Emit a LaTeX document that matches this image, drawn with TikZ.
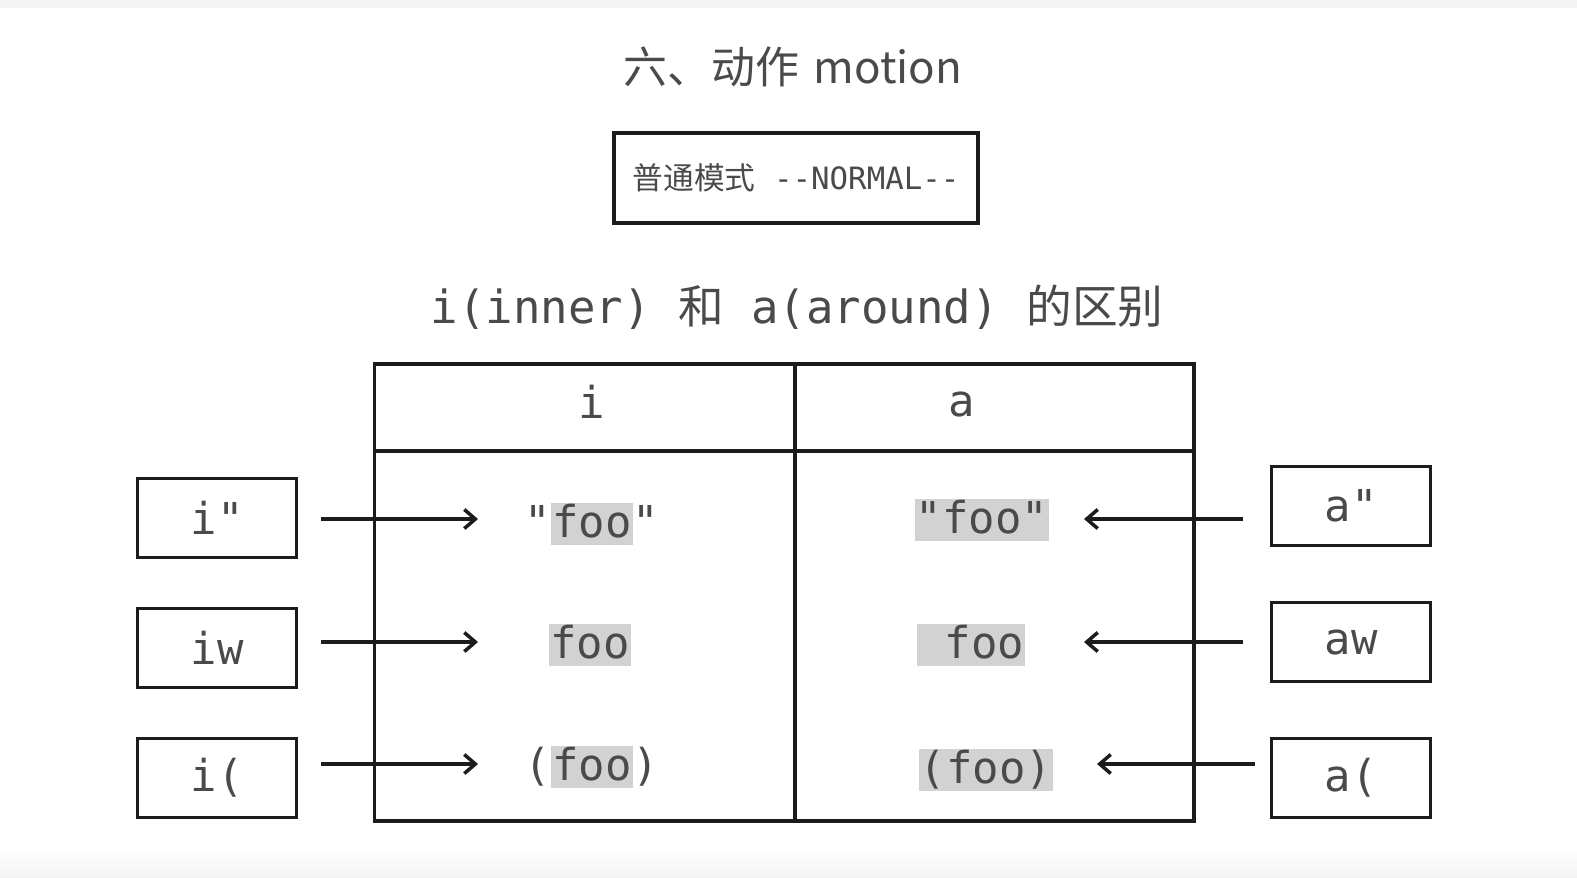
\documentclass[tikz,border=0pt]{standalone}
\usepackage{fontspec}
\setmonofont{DejaVu Sans Mono}
\newfontfamily\cjk{Noto Sans CJK SC}
\usetikzlibrary{arrows.meta}
\definecolor{vmInk}{HTML}{1C1C1C}
\definecolor{vmText}{HTML}{4A4A4A}
\definecolor{vmHl}{HTML}{D2D2D2}
\definecolor{vmPaper}{HTML}{F4F4F4}
\newcommand{\hlcode}[1]{{\setlength{\fboxsep}{0.6pt}\colorbox{vmHl}{\vphantom{(}#1}}}
\tikzset{
  vm frame/.style={draw=vmInk, line width=1.8pt},
  vm key/.style={vm frame, minimum width=3.18cm, minimum height=1.58cm, inner sep=0pt, text=vmText, font=\ttfamily\fontsize{25}{30}\selectfont},
  vm cell/.style={inner sep=0pt, text=vmText, font=\ttfamily\fontsize{25}{30}\selectfont},
  vm arrow/.style={draw=vmInk, line width=2pt, -{Straight Barb[length=2.2mm,width=3.8mm,line width=2pt]}},
  vm title/.style={text=vmText, font=\cjk\fontsize{25}{30}\selectfont},
}

\begin{document}
\begin{tikzpicture}[x=0.02cm,y=-0.02cm]
  \useasboundingbox (0,0) rectangle (1577,877);
  \fill[vmPaper] (0,0) rectangle (1577,8);
  \shade[top color=white,bottom color=vmPaper] (0,848) rectangle (1577,877);

  % headings
  \node[vm title] (title) at (793,67) {六、动作\hspace{0.1em} motion};
  \node[vm frame, minimum width=7.28cm, minimum height=1.8cm, text=vmText,
        font=\ttfamily\fontsize{17.5}{20}\selectfont] (mode) at (796,178) {{\cjk 普通模式}\ --NORMAL--};
  \node[vm cell, font=\ttfamily\fontsize{26}{30}\selectfont] (sub) at (797,307) {i(inner) {\cjk 和} a(around) {\cjk 的区别}};

  % table
  \node[vm frame, minimum width=16.4cm, minimum height=9.14cm] (tbl) at (784,592.5) {};
  \draw[vm frame] (374,451) -- (1194,451);
  \draw[vm frame] (795,364) -- (795,821);
  \node[vm cell] (hi) at (592,402) {i};
  \node[vm cell] (ha) at (962,404) {a};

  \node[vm cell] (iq-txt) at (592,524) {"\hlcode{foo}"};
  \node[vm cell] (iw-txt) at (590,645) {\hlcode{foo}};
  \node[vm cell] (ip-txt) at (592,767) {(\hlcode{foo})};
  \node[vm cell] (aq-txt) at (982,520) {\hlcode{"foo"}};
  \node[vm cell] (aw-txt) at (971,645) {\hlcode{\ foo}};
  \node[vm cell] (ap-txt) at (986,770) {\hlcode{(foo)}};

  % keys
  \node[vm key] (iq) at (217,518) {i"};
  \node[vm key] (iw) at (217,648) {iw};
  \node[vm key] (ip) at (217,778) {i(};
  \node[vm key] (aq) at (1351,506) {a"};
  \node[vm key] (aw) at (1351,642) {aw};
  \node[vm key] (ap) at (1351,778) {a(};

  \coordinate (iq-tip) at (478,519);
  \coordinate (iw-tip) at (478,642);
  \coordinate (ip-tip) at (478,764);
  \coordinate (aq-tip) at (1084,519);
  \coordinate (aw-tip) at (1084,642);
  \coordinate (ap-tip) at (1097,764);

  \draw[vm arrow, shorten <=0.46cm] (iq.east |- iq-tip) -- (iq-tip);
  \draw[vm arrow, shorten <=0.46cm] (iw.east |- iw-tip) -- (iw-tip);
  \draw[vm arrow, shorten <=0.46cm] (ip.east |- ip-tip) -- (ip-tip);
  \draw[vm arrow, shorten <=0.54cm] (aq.west |- aq-tip) -- (aq-tip);
  \draw[vm arrow, shorten <=0.54cm] (aw.west |- aw-tip) -- (aw-tip);
  \draw[vm arrow, shorten <=0.3cm] (ap.west |- ap-tip) -- (ap-tip);
\end{tikzpicture}
\end{document}
